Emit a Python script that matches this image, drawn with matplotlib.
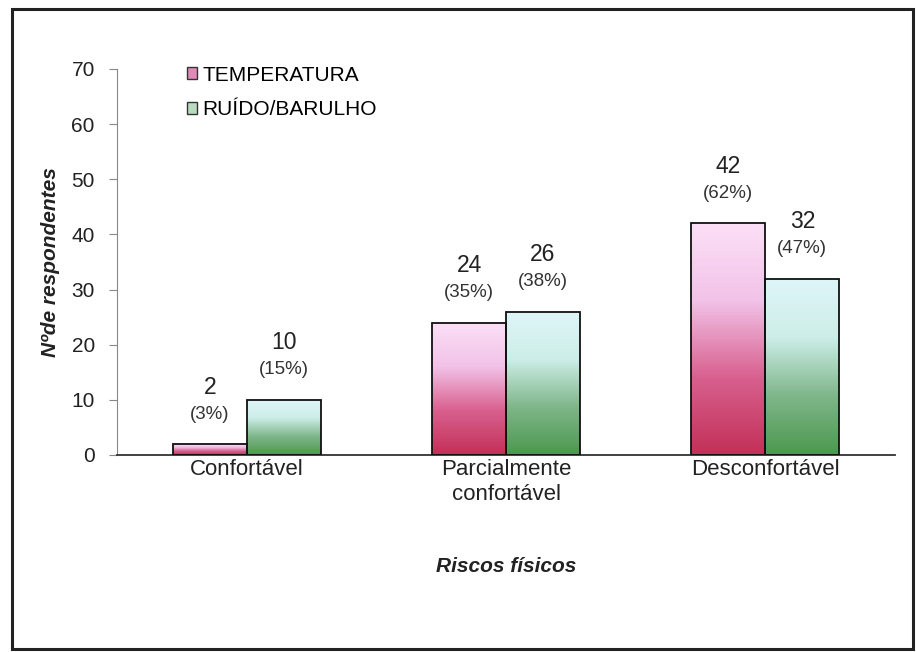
import numpy as np
import matplotlib
matplotlib.use("Agg")
import matplotlib.pyplot as plt
from matplotlib.colors import LinearSegmentedColormap
from matplotlib.patches import Rectangle, Patch

plt.rcParams['font.family'] = ['Liberation Sans', 'DejaVu Sans']

categories = ['Confortável', 'Parcialmente\nconfortável', 'Desconfortável']
series = ['TEMPERATURA', 'RUÍDO/BARULHO']
temperatura = [2, 24, 42]
ruido = [10, 26, 32]
temp_pct = ['(3%)', '(35%)', '(62%)']
ruido_pct = ['(15%)', '(38%)', '(47%)']

cmap_pink = LinearSegmentedColormap.from_list('pink', ['#c23058', '#d8608e', '#f2c2e8', '#fbe0f6'])
cmap_green = LinearSegmentedColormap.from_list('green', ['#4c984e', '#7fb68a', '#cdeee8', '#dff5f8'])

fig = plt.figure(figsize=(9.16, 6.52), dpi=100)
ax = fig.add_axes([117/916, 1 - 455/652, (895 - 117)/916, (455 - 69)/652])

# moldura externa
fig.patches.append(Rectangle((12/916, 3/652), 901/916, 640/652, transform=fig.transFigure,
                             fill=False, edgecolor='#222222', linewidth=2.2))

x = np.arange(len(categories))
width = 0.285
grad = np.linspace(0, 1, 256).reshape(-1, 1)


def gradient_bar(xc, h, cmap):
    left = xc - width / 2
    ax.imshow(grad, extent=(left, left + width, 0, h), origin='lower', aspect='auto',
              cmap=cmap, zorder=2)
    ax.add_patch(Rectangle((left, 0), width, h, fill=False, edgecolor='#111111',
                           linewidth=1.3, zorder=3))


for i in range(len(categories)):
    for xc, h, pct, cmap in [(x[i] - width / 2, temperatura[i], temp_pct[i], cmap_pink),
                             (x[i] + width / 2, ruido[i], ruido_pct[i], cmap_green)]:
        gradient_bar(xc, h, cmap)
        ax.annotate(str(h), (xc, h), xytext=(0, 41), textcoords='offset points',
                    ha='center', va='center', fontsize=16.5, color='#222222')
        ax.annotate(pct, (xc, h), xytext=(0, 21.5), textcoords='offset points',
                    ha='center', va='center', fontsize=13.5, color='#333333')

ax.set_xlim(-0.5, 2.5)
ax.set_ylim(0, 70)
ax.set_yticks(range(0, 71, 10))
ax.set_xticks(x)
ax.set_xticklabels(categories, fontsize=16, color='#222222', linespacing=1.25)
ax.tick_params(axis='x', length=0, pad=3)
ax.tick_params(axis='y', labelsize=15, colors='#222222', length=6, color='#888888', pad=10)
for s in ['top', 'right']:
    ax.spines[s].set_visible(False)
ax.spines['left'].set_color('#888888')
ax.spines['bottom'].set_color('#333333')
ax.spines['bottom'].set_linewidth(1.3)

ax.set_ylabel('Nºde respondentes', fontsize=15, fontweight='bold', style='italic',
              color='#222222', labelpad=8)
ax.set_xlabel('Riscos físicos', fontsize=15, fontweight='bold', style='italic',
              color='#222222', labelpad=37)

handles = [Patch(facecolor='#e08ab8', edgecolor='#333333', linewidth=1),
           Patch(facecolor='#b9dcc0', edgecolor='#333333', linewidth=1)]
ax.legend(handles, series, loc='upper left', bbox_to_anchor=(0.079, 1.03), frameon=False,
          fontsize=15, handlelength=0.5, handleheight=0.5, handletextpad=0.25,
          labelspacing=0.75, borderaxespad=0)

fig.savefig('out.png', dpi=100, facecolor='white')
